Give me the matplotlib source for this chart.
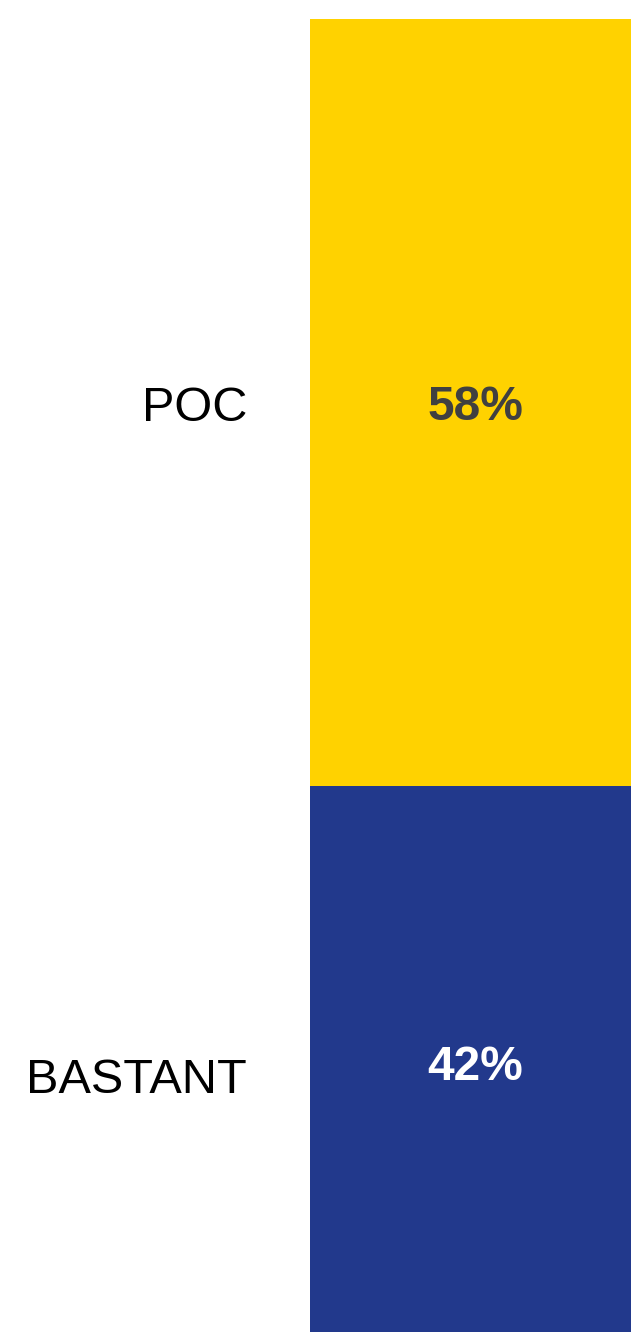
import matplotlib
matplotlib.use("Agg")
import matplotlib.pyplot as plt

# ── Data ─────────────────────────────────────────────────────────────────────
categories = ["POC", "BASTANT"]
shares     = [58.4, 41.6]          # percent, top segment first
colors     = ["#FFD200", "#22398C"]
text_cols  = ["#404040", "#FFFFFF"]

W, H, DPI = 631, 1332, 100

plt.rcParams["font.family"] = ["Liberation Sans", "DejaVu Sans"]

fig = plt.figure(figsize=(W / DPI, H / DPI), dpi=DPI, facecolor="white")
ax = fig.add_axes([310 / W, 0, 1 - 310 / W, (H - 19) / H])

# stack from the bottom up: last category sits at the bottom
bottom = 0.0
segs = []
for cat, val, col, tc in reversed(list(zip(categories, shares, colors, text_cols))):
    ax.bar(0, val, bottom=bottom, width=1.0, color=col, linewidth=0)
    segs.append((cat, val, bottom, tc))
    bottom += val

ax.set_xlim(-0.5, 0.5)
ax.set_ylim(0, bottom)
ax.axis("off")

# small offsets to sit text where the reference puts it (pixels, +y is up)
cat_dy = {"POC": -6, "BASTANT": -22}
pct_dy = {"POC": -5, "BASTANT": -9}

for cat, val, b, tc in segs:
    mid = b + val / 2
    ax.annotate(cat, xy=(-0.5, mid), xytext=(-63, cat_dy[cat]),
                textcoords="offset pixels", ha="right", va="center",
                fontsize=35, color="black", annotation_clip=False)
    ax.annotate(f"{val:.0f}%", xy=(0, mid), xytext=(5, pct_dy[cat]),
                textcoords="offset pixels", ha="center", va="center",
                fontsize=34.5, fontweight="bold", color=tc)

fig.savefig("out.png", dpi=DPI, facecolor="white")
